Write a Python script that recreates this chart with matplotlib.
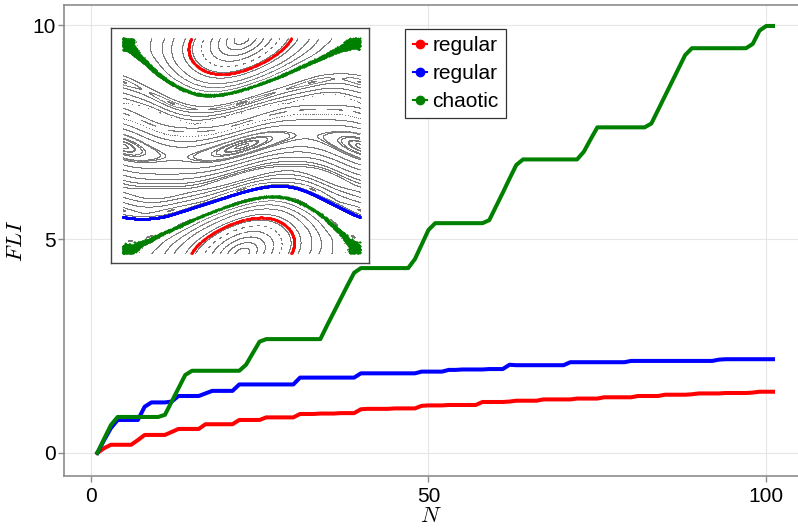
import numpy as np
import matplotlib
matplotlib.use("Agg")
import matplotlib.pyplot as plt
from matplotlib.lines import Line2D

plt.rcParams['font.family'] = ['Liberation Sans', 'DejaVu Sans']
plt.rcParams['mathtext.fontset'] = 'cm'

# FLI curves, N = 1 .. 101
N = np.arange(1, 102)

fli_red = [0, 0.11, 0.19, 0.19, 0.19, 0.19, 0.30, 0.42, 0.42, 0.42,
           0.42, 0.49, 0.56, 0.56, 0.56, 0.56, 0.67, 0.67, 0.67, 0.67,
           0.67, 0.77, 0.77, 0.77, 0.77, 0.83, 0.83, 0.83, 0.83, 0.83,
           0.91, 0.91, 0.91, 0.92, 0.92, 0.92, 0.93, 0.93, 0.93, 1.02,
           1.03, 1.03, 1.03, 1.03, 1.04, 1.04, 1.04, 1.04, 1.10, 1.11,
           1.11, 1.11, 1.12, 1.12, 1.12, 1.12, 1.12, 1.19, 1.19, 1.19,
           1.19, 1.20, 1.22, 1.22, 1.22, 1.22, 1.25, 1.25, 1.25, 1.25,
           1.25, 1.27, 1.27, 1.27, 1.27, 1.30, 1.30, 1.30, 1.30, 1.30,
           1.33, 1.33, 1.33, 1.33, 1.36, 1.36, 1.36, 1.36, 1.37, 1.39,
           1.39, 1.39, 1.39, 1.40, 1.40, 1.40, 1.40, 1.41, 1.43, 1.43,
           1.43]

fli_blue = [0, 0.30, 0.58, 0.77, 0.77, 0.77, 0.77, 1.08, 1.18, 1.18,
            1.18, 1.20, 1.33, 1.33, 1.33, 1.33, 1.39, 1.45, 1.45, 1.45,
            1.45, 1.60, 1.60, 1.60, 1.60, 1.60, 1.60, 1.60, 1.60, 1.60,
            1.76, 1.76, 1.76, 1.76, 1.76, 1.76, 1.76, 1.76, 1.76, 1.86,
            1.86, 1.86, 1.86, 1.86, 1.86, 1.86, 1.86, 1.86, 1.90, 1.90,
            1.90, 1.90, 1.94, 1.94, 1.95, 1.95, 1.95, 1.95, 1.96, 1.96,
            1.96, 2.06, 2.05, 2.05, 2.05, 2.05, 2.05, 2.05, 2.05, 2.05,
            2.12, 2.12, 2.12, 2.12, 2.12, 2.12, 2.12, 2.12, 2.12, 2.15,
            2.15, 2.15, 2.15, 2.15, 2.15, 2.15, 2.15, 2.15, 2.15, 2.15,
            2.15, 2.15, 2.18, 2.19, 2.19, 2.19, 2.19, 2.19, 2.19, 2.19,
            2.19]

fli_green = [0, 0.33, 0.65, 0.84, 0.84, 0.84, 0.84, 0.84, 0.84, 0.84,
             0.89, 1.20, 1.51, 1.82, 1.92, 1.92, 1.92, 1.92, 1.92, 1.92,
             1.92, 1.92, 2.06, 2.33, 2.60, 2.66, 2.66, 2.66, 2.66, 2.66,
             2.66, 2.66, 2.66, 2.66, 2.98, 3.29, 3.60, 3.91, 4.21, 4.32,
             4.32, 4.32, 4.32, 4.32, 4.32, 4.32, 4.32, 4.53, 4.87, 5.21,
             5.37, 5.37, 5.37, 5.37, 5.37, 5.37, 5.37, 5.37, 5.44, 5.76,
             6.08, 6.41, 6.73, 6.86, 6.86, 6.86, 6.86, 6.86, 6.86, 6.86,
             6.86, 6.86, 7.04, 7.33, 7.61, 7.61, 7.61, 7.61, 7.61, 7.61,
             7.61, 7.61, 7.70, 8.02, 8.34, 8.66, 8.98, 9.30, 9.46, 9.46,
             9.46, 9.46, 9.46, 9.46, 9.46, 9.46, 9.46, 9.56, 9.87, 9.98,
             9.98]

labels = ["regular", "regular", "chaotic"]
colors = ["#ff0000", "#0000ff", "#008000"]

# inset: standard map p' = p + K sin x, x' = x + p'
K = 0.64
grey_x0 = [np.pi] * 14 + [0.0] * 30
grey_p0 = [0.15, 0.3, 0.45, 0.6, 0.75, 0.9, 1.05, 1.2, 1.3, 1.4, 1.48, 1.55, 2.9, 3.05,
           1.15, 1.25, 1.35, 1.5, 1.65, 1.8, 1.95, 2.05, 2.15, 2.3, 2.45, 2.6, 2.75, 2.9, 3.0,
           3.2, 3.35, 3.5, 3.65, 3.8, 3.95, 4.1, 4.25, 4.4, 4.55, 4.7, 4.85, 5.0, 5.1, 5.2]
orbit_x0 = [1.82, 0.0, 0.002]
orbit_p0 = [0.0, 1.07, 0.0]
orbit_n = [600, 1500, 8000]
orbit_s = [3, 3, 1.6]


def iterate(x0, p0, n):
    xs = np.empty(n)
    ps = np.empty(n)
    x, p = x0, p0
    for i in range(n):
        xs[i] = x
        ps[i] = p
        p = (p + K * np.sin(x)) % (2 * np.pi)
        x = (x + p) % (2 * np.pi)
    return xs, ps


fig = plt.figure(figsize=(7.98, 5.29), dpi=100)
ax = fig.add_axes([64 / 798, 1 - 476 / 529, 734 / 798, 471 / 529])

for y, c in zip([fli_red, fli_blue, fli_green], colors):
    ax.plot(N, y, color=c, lw=2.9, solid_joinstyle='round')

ax.set_xlim(-3.94, 104.7)
ax.set_ylim(-0.54, 10.47)
ax.set_xticks([0, 50, 100])
ax.set_yticks([0, 5, 10])
ax.grid(True, color='#e6e6e6', lw=0.8)
ax.set_axisbelow(True)
for s in ['left', 'bottom', 'top']:
    ax.spines[s].set_color('#8c8c8c')
    ax.spines[s].set_linewidth(1.2)
ax.spines['right'].set_visible(False)
ax.tick_params(axis='both', labelsize=15, colors='#8c8c8c', labelcolor='black',
               length=4, width=1)
ax.tick_params(axis='x', pad=4)
ax.tick_params(axis='y', pad=2)
ax.set_xlabel('$N$', fontsize=16, labelpad=0)
ax.set_ylabel('$FLI$', fontsize=16, labelpad=4)

handles = [Line2D([], [], color=c, lw=1.5, marker='o', ms=6) for c in colors]
leg = ax.legend(handles, labels, loc='upper left', bbox_to_anchor=(0.465, 0.949),
                borderaxespad=0, fontsize=15, frameon=True, fancybox=False,
                framealpha=1, edgecolor='#333333', handlelength=0.7,
                handletextpad=0.25, labelspacing=0.42, borderpad=0.35)
leg.get_frame().set_linewidth(0.9)

# inset phase portrait
axi = fig.add_axes([111 / 798, 1 - 263 / 529, 258 / 798, 235 / 529])
for x0, p0 in zip(grey_x0, grey_p0):
    xs, ps = iterate(x0, p0, 1000)
    axi.scatter(xs, ps, s=0.35, color='#777777', linewidths=0, rasterized=True)
for x0, p0, n, c, sz in zip(orbit_x0, orbit_p0, orbit_n, colors, orbit_s):
    xs, ps = iterate(x0, p0, n)
    axi.scatter(xs, ps, s=sz, color=c, linewidths=0, rasterized=True)
axi.set_xlim(-0.31, 2 * np.pi + 0.24)
axi.set_ylim(-0.283, 2 * np.pi + 0.30)
axi.set_xticks([])
axi.set_yticks([])
for s in axi.spines.values():
    s.set_color('#444444')
    s.set_linewidth(1.0)

fig.savefig('out.png', dpi=100)
